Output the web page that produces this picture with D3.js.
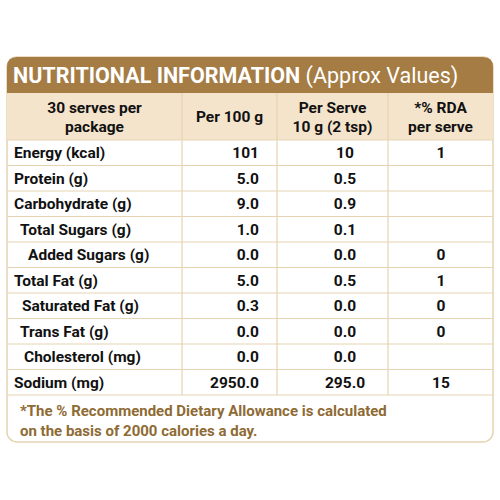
<!DOCTYPE html>
<html><head><meta charset="utf-8">
<script src="https://cdn.jsdelivr.net/npm/d3@7"></script>
<style>body{margin:0;background:#fff}</style>
</head><body>
<svg id="chart" width="500" height="500"></svg>
<script>
const headers = [["30 serves per", "package"], ["Per 100 g"], ["Per Serve", "10 g (2 tsp)"], ["*% RDA", "per serve"]];
const nutrients = ["Energy (kcal)", "Protein (g)", "Carbohydrate (g)", "Total Sugars (g)", "Added Sugars (g)", "Total Fat (g)", "Saturated Fat (g)", "Trans Fat (g)", "Cholesterol (mg)", "Sodium (mg)"];
const indent = [0, 0, 0, 6, 14, 0, 8, 6, 10, 0];
const per100 = ["101", "5.0", "9.0", "1.0", "0.0", "5.0", "0.3", "0.0", "0.0", "2950.0"];
const perServe = ["10", "0.5", "0.9", "0.1", "0.0", "0.5", "0.0", "0.0", "0.0", "295.0"];
const rda = ["1", "", "", "", "0", "1", "0", "0", "", "15"];

const svg = d3.select("#chart");
const font = "Roboto, 'Liberation Sans', sans-serif";
const x0 = 7, x1 = 493, y0 = 57, y1 = 442;
const cols = [x0, 182, 277, 388, x1];
const titleH = 36, headH = 47;
const y = d3.scaleBand().domain(d3.range(nutrients.length)).range([y0 + titleH + headH, 395]);
const line = "#e6d3b3";

svg.append("rect").attr("x", x0).attr("y", y0).attr("width", x1 - x0).attr("height", y1 - y0)
  .attr("rx", 10).attr("fill", "#fff").attr("stroke", line).attr("stroke-width", 1.5);
// title band
svg.append("path").attr("fill", "#a47c44")
  .attr("d", `M${x0},${y0 + titleH} V${y0 + 10} Q${x0},${y0} ${x0 + 10},${y0} H${x1 - 10} Q${x1},${y0} ${x1},${y0 + 10} V${y0 + titleH} Z`);
const t = svg.append("text").attr("x", 13).attr("y", y0 + 26).attr("fill", "#fff").attr("font-family", font).attr("font-size", 21.5);
t.append("tspan").attr("font-weight", "bold").text("NUTRITIONAL INFORMATION ");
t.append("tspan").text("(Approx Values)");
// header row
svg.append("rect").attr("x", x0).attr("y", y0 + titleH).attr("width", x1 - x0).attr("height", headH).attr("fill", "#f4e4cc");
headers.forEach((h, i) => {
  const cx = (cols[i] + cols[i + 1]) / 2;
  const cy = y0 + titleH + headH / 2;
  h.forEach((s, j) => svg.append("text").attr("x", cx).attr("y", cy + (j - (h.length - 1) / 2) * 19 + 5.5)
    .attr("text-anchor", "middle").attr("font-family", font).attr("font-weight", "bold").attr("font-size", 15.5).attr("fill", "#111").text(s));
});
// grid
const g = svg.append("g").attr("stroke", line).attr("stroke-width", 1.2);
cols.slice(1, 4).forEach(x => g.append("line").attr("x1", x).attr("x2", x).attr("y1", y0 + titleH).attr("y2", 395));
d3.range(nutrients.length + 1).forEach(i => {
  const yy = i < nutrients.length ? y(i) : 395;
  g.append("line").attr("x1", x0).attr("x2", x1).attr("y1", yy).attr("y2", yy);
});
// rows
const rows = svg.append("g").attr("font-family", font).attr("font-weight", "bold").attr("font-size", 15.5).attr("fill", "#111");
nutrients.forEach((n, i) => {
  const yy = y(i) + y.bandwidth() / 2 + 5.5;
  rows.append("text").attr("x", 14 + indent[i]).attr("y", yy).text(n);
  rows.append("text").attr("x", 259).attr("y", yy).attr("text-anchor", "end").text(per100[i]);
  rows.append("text").attr("x", 345).attr("y", yy).attr("text-anchor", "middle").text(perServe[i]);
  rows.append("text").attr("x", 441).attr("y", yy).attr("text-anchor", "middle").text(rda[i]);
});
// footnote
const fn = ["*The % Recommended Dietary Allowance is calculated", "on the basis of 2000 calories a day."];
fn.forEach((s, i) => svg.append("text").attr("x", 20).attr("y", 416 + i * 20).attr("font-family", font)
  .attr("font-weight", "bold").attr("font-size", 15).attr("fill", "#8e6b34").text(s));
</script>
</body></html>
